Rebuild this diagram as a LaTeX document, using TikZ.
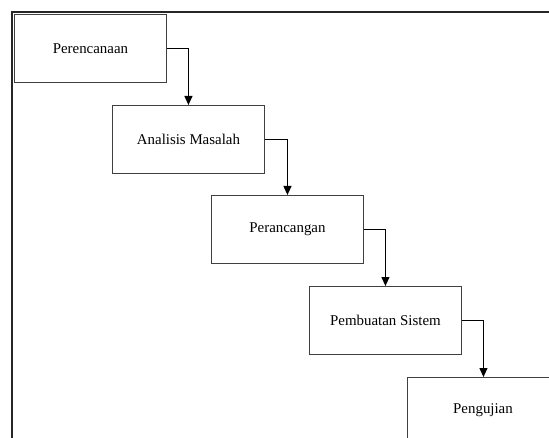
\documentclass[tikz,border=0pt]{standalone}
\usepackage{fontspec}
\setmainfont{Liberation Serif}
\usetikzlibrary{arrows.meta}
\begin{document}
\begin{tikzpicture}[x=1bp,y=-1bp,
  stepbox/.style={draw=black!75,line width=0.9bp,minimum width=152bp,minimum height=68bp,inner sep=0pt,anchor=north west,font=\fontsize{14.9bp}{18bp}\selectfont},
  flow/.style={draw=black,line width=1.1bp,-{Triangle[width=8bp,length=9bp]}}]
\useasboundingbox (0,0) rectangle (549,438);
\clip (0,0) rectangle (549,438);
\fill[white] (0,0) rectangle (549,438);
\draw[black!85,line width=1.2bp] (12,450) -- (12,12) -- (560,12);
\node[stepbox] (a) at (14,14) {Perencanaan};
\node[stepbox] (b) at (112,105) {Analisis Masalah};
\node[stepbox] (c) at (211,195) {Perancangan};
\node[stepbox] (d) at (309,286) {Pembuatan Sistem};
\node[stepbox] (e) at (407,377) {};
\node[font=\fontsize{14.9bp}{18bp}\selectfont] (et) at (483,410) {Pengujian};
\draw[flow] (a.east) -| (b.north);
\draw[flow] (b.east) -| (c.north);
\draw[flow] (c.east) -| (d.north);
\draw[flow] (d.east) -| (e.north);
\end{tikzpicture}
\end{document}
